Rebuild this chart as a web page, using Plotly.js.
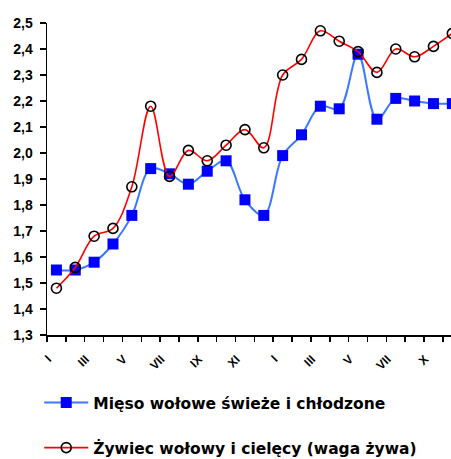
<!DOCTYPE html>
<html>
<head>
<meta charset="utf-8">
<script src="https://cdn.plot.ly/plotly-3.0.1.min.js"></script>
<style>html,body{margin:0;padding:0;background:#fff;}#chart{width:451px;height:459px;}</style>
</head>
<body>
<div id="chart"></div>
<script>
// Data
var monthIndex = [1,2,3,4,5,6,7,8,9,10,11,12,13,14,15,16,17,18,19,20,21,22];
var tickPositions = [1,3,5,7,9,11,13,15,17,19,21];
var tickLabels = ['I','III','V','VII','IX','XI','I','III','V','VII','X'];
var seriesMeatName = 'Mięso wołowe świeże i chłodzone';
var seriesMeat = [1.55,1.55,1.58,1.65,1.76,1.94,1.92,1.88,1.93,1.97,1.82,1.76,1.99,2.07,2.18,2.17,2.38,2.13,2.21,2.20,2.19,2.19];
var seriesLiveName = 'Żywiec wołowy i cielęcy (waga żywa)';
var seriesLive = [1.48,1.56,1.68,1.71,1.87,2.18,1.91,2.01,1.97,2.03,2.09,2.02,2.30,2.36,2.47,2.43,2.39,2.31,2.40,2.37,2.41,2.46];

var fontFam = '"Liberation Sans", Arial, sans-serif';
var legendFam = '"DejaVu Sans", sans-serif';
var labelOffset = -0.45; // visual shift of rotated labels

var traces = [
  {
    x: monthIndex, y: seriesMeat, name: seriesMeatName, type: 'scatter', mode: 'lines+markers',
    line: {color: '#3a78ff', width: 2, shape: 'spline', smoothing: 1},
    marker: {symbol: 'square', size: 11, color: '#0000ff', line: {width: 0}},
    legend: 'legend'
  },
  {
    x: monthIndex, y: seriesLive, name: seriesLiveName, type: 'scatter', mode: 'lines+markers',
    line: {color: '#ff0000', width: 1.6, shape: 'spline', smoothing: 1},
    marker: {symbol: 'circle-open', size: 10, color: '#000000', line: {width: 1.6, color: '#000000'}},
    legend: 'legend2'
  }
];

var layout = {
  width: 451, height: 459,
  margin: {l: 47, r: 0, t: 23, b: 124, autoexpand: false},
  paper_bgcolor: '#ffffff', plot_bgcolor: '#ffffff',
  separators: ', ',
  showlegend: true,
  font: {family: fontFam, color: '#000000', weight: 'bold'},
  xaxis: {
    range: [0.5, 21.93],
    automargin: false,
    showgrid: false, zeroline: false,
    showline: true, linecolor: '#000000', linewidth: 1.5,
    tickmode: 'array', tickvals: tickPositions.map(function(v){return v + labelOffset;}), ticktext: tickLabels,
    ticks: '', tickangle: -45,
    tickfont: {family: fontFam, size: 12, color: '#000000', weight: 'bold'},
    ticklabelstandoff: 11,
    minor: {tickmode: 'linear', tick0: 0.5, dtick: 1, ticks: 'outside', ticklen: 5, tickwidth: 1.5, tickcolor: '#000000', showgrid: false}
  },
  yaxis: {
    range: [1.3, 2.5],
    automargin: false,
    showgrid: false, zeroline: false,
    showline: true, linecolor: '#000000', linewidth: 1.5,
    tickmode: 'linear', tick0: 1.3, dtick: 0.1, tickformat: '.1f',
    ticks: 'outside', ticklen: 6, tickwidth: 1.5, tickcolor: '#000000',
    tickfont: {family: fontFam, size: 14, color: '#000000', weight: 'bold'},
    ticklabelstandoff: 4
  },
  legend: {
    xref: 'container', yref: 'container', x: 0.087, y: 56/459, xanchor: 'left', yanchor: 'middle',
    bgcolor: 'rgba(0,0,0,0)', borderwidth: 0, itemwidth: 44,
    font: {family: legendFam, size: 15.5, color: '#000000', weight: 'bold'}
  },
  legend2: {
    xref: 'container', yref: 'container', x: 0.087, y: 11/459, xanchor: 'left', yanchor: 'middle',
    bgcolor: 'rgba(0,0,0,0)', borderwidth: 0, itemwidth: 44,
    font: {family: legendFam, size: 15.5, color: '#000000', weight: 'bold'}
  }
};

Plotly.newPlot('chart', traces, layout, {displayModeBar: false, staticPlot: true});
</script>
</body>
</html>
